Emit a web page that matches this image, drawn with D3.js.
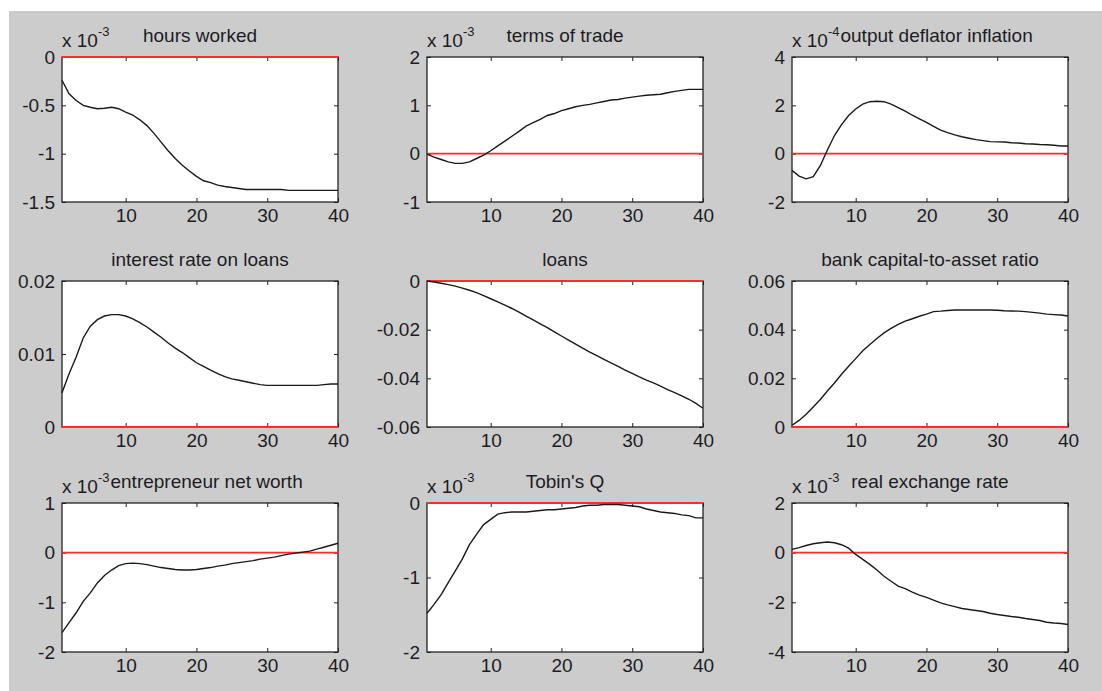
<!DOCTYPE html>
<html>
<head>
<meta charset="utf-8">
<script src="https://cdn.jsdelivr.net/npm/d3@7"></script>
<style>
  body { margin: 0; background: #fff; }
  svg { display: block; }
  text { font-family: "Liberation Sans", Arial, sans-serif; fill: #1c1c24; }
</style>
</head>
<body>
<div id="chart"></div>
<script>
// impulse responses, 40 periods, values in displayed units (see exponents)
const titles = ["hours worked", "terms of trade", "output deflator inflation",
                "interest rate on loans", "loans", "bank capital-to-asset ratio",
                "entrepreneur net worth", "Tobin's Q", "real exchange rate"];
const exponents = [-3, -3, -4, null, null, null, -3, -3, -3];
const yDomains = [[-1.5, 0], [-1, 2], [-2, 4], [0, 0.02], [-0.06, 0], [0, 0.06], [-2, 1], [-2, 0], [-4, 2]];
const yTicks = [[-1.5, -1, -0.5, 0], [-1, 0, 1, 2], [-2, 0, 2, 4], [0, 0.01, 0.02],
                [-0.06, -0.04, -0.02, 0], [0, 0.02, 0.04, 0.06], [-2, -1, 0, 1], [-2, -1, 0], [-4, -2, 0, 2]];
const xTicks = [10, 20, 30, 40];

const hoursWorked = [-0.24, -0.38, -0.45, -0.5, -0.52, -0.535, -0.53, -0.52, -0.535, -0.57,
  -0.6, -0.65, -0.71, -0.79, -0.88, -0.97, -1.05, -1.12, -1.18, -1.235,
  -1.28, -1.3, -1.325, -1.34, -1.35, -1.36, -1.37, -1.37, -1.37, -1.37,
  -1.37, -1.37, -1.38, -1.38, -1.38, -1.38, -1.38, -1.38, -1.38, -1.38];
const termsOfTrade = [-0.01, -0.07, -0.12, -0.17, -0.2, -0.2, -0.17, -0.1, -0.03, 0.06,
  0.16, 0.26, 0.36, 0.46, 0.57, 0.64, 0.71, 0.79, 0.83, 0.89,
  0.93, 0.97, 1.0, 1.02, 1.05, 1.08, 1.11, 1.12, 1.15, 1.17,
  1.19, 1.21, 1.22, 1.23, 1.26, 1.29, 1.31, 1.33, 1.33, 1.33];
const outputDeflatorInflation = [-0.69, -0.93, -1.04, -0.95, -0.5, 0.15, 0.75, 1.2, 1.58, 1.85,
  2.05, 2.15, 2.17, 2.15, 2.05, 1.91, 1.76, 1.59, 1.44, 1.29,
  1.13, 0.97, 0.87, 0.78, 0.7, 0.64, 0.58, 0.54, 0.5, 0.49,
  0.48, 0.45, 0.44, 0.41, 0.4, 0.38, 0.37, 0.35, 0.32, 0.32];
const interestRateOnLoans = [0.0047, 0.0073, 0.0096, 0.0122, 0.0138, 0.0147, 0.0152, 0.0154, 0.0154, 0.0152,
  0.0148, 0.0143, 0.0137, 0.013, 0.0123, 0.0115, 0.0108, 0.0102, 0.0095, 0.0088,
  0.0083, 0.0078, 0.0073, 0.0069, 0.0066, 0.0064, 0.0062, 0.006, 0.0058, 0.0057,
  0.0057, 0.0057, 0.0057, 0.0057, 0.0057, 0.0057, 0.0057, 0.0058, 0.0059, 0.0059];
const loans = [0, -0.0004, -0.0009, -0.0015, -0.0021, -0.0029, -0.0038, -0.0048, -0.006, -0.0073,
  -0.0086, -0.0099, -0.0113, -0.0128, -0.0144, -0.016, -0.0176, -0.0192, -0.0209, -0.0226,
  -0.0243, -0.0259, -0.0276, -0.0292, -0.0307, -0.0322, -0.0336, -0.0351, -0.0366, -0.038,
  -0.0394, -0.0407, -0.0419, -0.0432, -0.0446, -0.0459, -0.0472, -0.0486, -0.0503, -0.0523];
const bankCapitalToAssetRatio = [0.0007, 0.0027, 0.0052, 0.0082, 0.0113, 0.0148, 0.0181, 0.0217, 0.025, 0.0281,
  0.0313, 0.0339, 0.0364, 0.0387, 0.0405, 0.0422, 0.0435, 0.0445, 0.0455, 0.0464,
  0.0474, 0.0476, 0.0479, 0.0481, 0.0481, 0.0481, 0.0481, 0.0481, 0.0481, 0.048,
  0.0478, 0.0477, 0.0476, 0.0474, 0.0471, 0.0468, 0.0464, 0.0462, 0.046, 0.0456];
const entrepreneurNetWorth = [-1.61, -1.41, -1.21, -0.98, -0.81, -0.61, -0.46, -0.35, -0.26, -0.22,
  -0.21, -0.22, -0.24, -0.27, -0.3, -0.32, -0.34, -0.35, -0.35, -0.34,
  -0.32, -0.3, -0.27, -0.25, -0.22, -0.2, -0.18, -0.16, -0.13, -0.11,
  -0.09, -0.06, -0.03, -0.01, 0.01, 0.03, 0.07, 0.11, 0.15, 0.19];
const tobinsQ = [-1.48, -1.36, -1.23, -1.07, -0.91, -0.75, -0.56, -0.42, -0.29, -0.22,
  -0.15, -0.13, -0.12, -0.12, -0.12, -0.11, -0.1, -0.09, -0.09, -0.08,
  -0.07, -0.06, -0.04, -0.03, -0.03, -0.02, -0.02, -0.02, -0.03, -0.04,
  -0.05, -0.08, -0.1, -0.12, -0.13, -0.14, -0.16, -0.17, -0.2, -0.2];
const realExchangeRate = [0.13, 0.2, 0.29, 0.36, 0.4, 0.43, 0.4, 0.32, 0.18, -0.07,
  -0.27, -0.47, -0.7, -0.95, -1.15, -1.35, -1.45, -1.59, -1.71, -1.8,
  -1.91, -2.02, -2.1, -2.17, -2.25, -2.29, -2.33, -2.37, -2.44, -2.49,
  -2.53, -2.57, -2.6, -2.65, -2.69, -2.73, -2.8, -2.83, -2.85, -2.89];

const series = [hoursWorked, termsOfTrade, outputDeflatorInflation,
                interestRateOnLoans, loans, bankCapitalToAssetRatio,
                entrepreneurNetWorth, tobinsQ, realExchangeRate];

// layout
const W = 1102, H = 691;
const colLeft = [62, 427, 792], colWidth = 276;
const rowTop = [57, 281, 503], rowHeight = [145, 146, 149];
const fontSize = 19;

const svg = d3.select("#chart").append("svg")
    .attr("width", W)
    .attr("height", H);

svg.append("rect")
    .attr("x", 9).attr("y", 11)
    .attr("width", W - 9).attr("height", H - 11)
    .attr("fill", "#cccccc");

titles.forEach((title, i) => {
    const row = Math.floor(i / 3), col = i % 3;
    const w = colWidth, h = rowHeight[row];
    const values = series[i];

    const g = svg.append("g")
        .attr("transform", `translate(${colLeft[col]},${rowTop[row]})`);

    const x = d3.scaleLinear().domain([1, values.length]).range([0, w]);
    const y = d3.scaleLinear().domain(yDomains[i]).range([h, 0]);

    g.append("rect")
        .attr("width", w).attr("height", h)
        .attr("fill", "#fff");

    // axes with inward ticks on all four sides
    const axes = [
        [d3.axisBottom(x).tickValues(xTicks), `translate(0,${h})`, true],
        [d3.axisTop(x).tickValues(xTicks), null, false],
        [d3.axisLeft(y).tickValues(yTicks[i]), null, true],
        [d3.axisRight(y).tickValues(yTicks[i]), `translate(${w},0)`, false]
    ];
    axes.forEach(([axis, tr, labels]) => {
        axis.tickSizeInner(-4).tickSizeOuter(0)
            .tickPadding(labels ? 7 : 0)
            .tickFormat(labels ? d => String(d) : "");
        const a = g.append("g").attr("transform", tr).call(axis);
        a.select(".domain").remove();
        a.selectAll("line").attr("stroke", "#222").attr("stroke-width", 1);
        a.selectAll("text")
            .style("font-size", fontSize + "px")
            .attr("fill", "#1c1c24");
    });

    g.append("rect")
        .attr("width", w).attr("height", h)
        .attr("fill", "none")
        .attr("stroke", "#222")
        .attr("stroke-width", 1.3);

    // zero line
    g.append("line")
        .attr("x1", 0).attr("x2", w)
        .attr("y1", y(0)).attr("y2", y(0))
        .attr("stroke", "#ff2a2a")
        .attr("stroke-width", 1.8);

    const line = d3.line()
        .x((d, k) => x(k + 1))
        .y(d => y(d));

    g.append("path")
        .datum(values)
        .attr("d", line)
        .attr("fill", "none")
        .attr("stroke", "#1a1a1a")
        .attr("stroke-width", 1.4);

    // exponent label, MATLAB style
    let multRight = -Infinity;
    if (exponents[i] !== null) {
        const m = g.append("text")
            .attr("x", 0).attr("y", -10)
            .style("font-size", fontSize + "px");
        m.append("tspan").text("x 10");
        m.append("tspan")
            .attr("dy", -11)
            .style("font-size", "13px")
            .text(exponents[i]);
        multRight = m.node().getBBox().x + m.node().getBBox().width;
    }

    const t = g.append("text")
        .attr("x", w / 2).attr("y", -15)
        .attr("text-anchor", "middle")
        .style("font-size", fontSize + "px")
        .text(title);
    const tb = t.node().getBBox();
    if (tb.x < multRight + 1) {
        t.attr("text-anchor", "start").attr("x", multRight + 1);
    }
});
</script>
</body>
</html>
